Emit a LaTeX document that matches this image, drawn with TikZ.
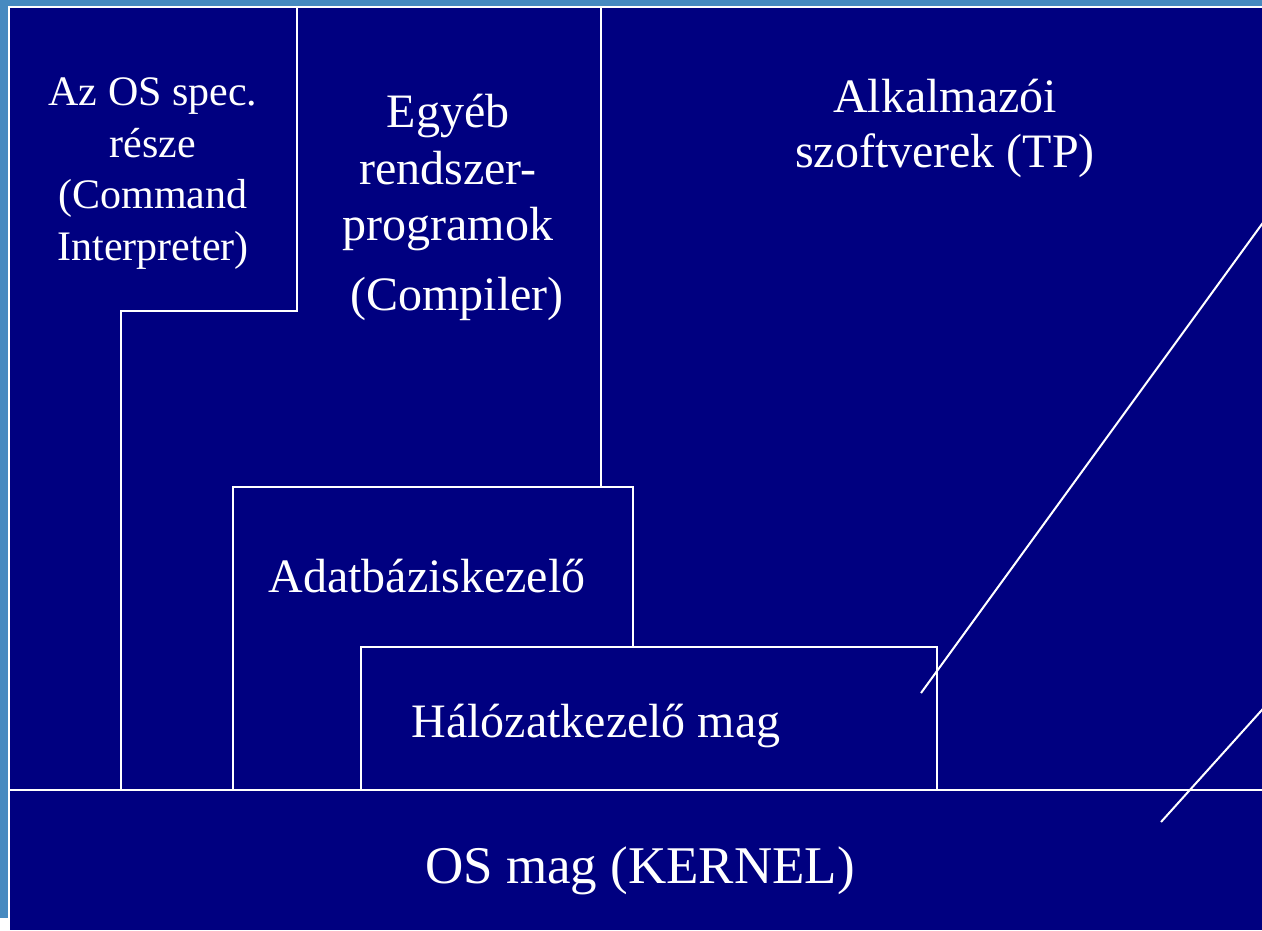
\documentclass[tikz,border=0pt]{standalone}
\usepackage{fontspec}
\setmainfont{Liberation Serif}
\definecolor{slidenavy}{RGB}{0,0,128}
\definecolor{frameblue}{RGB}{70,138,192}
\begin{document}
\begin{tikzpicture}[x=1pt,y=-1pt,
  sep/.style={draw=white,line width=2pt},
  lbl/.style={text=white,inner sep=0pt,anchor=base,font=\fontsize{48}{58}\selectfont},
  lblsmall/.style={lbl,font=\fontsize{42}{52}\selectfont},
  lblbig/.style={lbl,font=\fontsize{53}{64}\selectfont}]
  \useasboundingbox (0,0) rectangle (1262,930);
  % slide frame and background
  \fill[white] (0,0) rectangle (1262,930);
  \fill[frameblue] (0,0) rectangle (1262,6);
  \fill[frameblue] (0,0) rectangle (8,918);
  \fill[slidenavy] (10,8) rectangle (1262,930);

  \begin{scope}
    \clip (10,8) rectangle (1262,930);
    % layer boundaries
    \draw[sep] (297,8) -- (297,311) -- (121,311) -- (121,790);
    \draw[sep] (601,8) -- (601,487);
    \draw[sep] (233,790) -- (233,487) -- (633,487) -- (633,647);
    \draw[sep] (361,790) -- (361,647) -- (937,647) -- (937,790);
    \draw[sep] (10,790) -- (1262,790);
    % slanted strokes
    \coordinate (s1a) at (921,693);
    \coordinate (s1b) at (1270,213);
    \coordinate (s2a) at (1161,822);
    \coordinate (s2b) at (1270,701);
    \draw[sep] (s1a) -- (s1b);
    \draw[sep] (s2a) -- (s2b);
  \end{scope}

  % command interpreter
  \node[lblsmall] (os1) at (153,105) {Az OS spec.};
  \node[lblsmall] (os2) at (153,157) {része};
  \node[lblsmall] (os3) at (153,208) {(Command};
  \node[lblsmall] (os4) at (153,260) {Interpreter)};
  % other system programs
  \node[lbl] (eg1) at (448,127) {Egyéb};
  \node[lbl] (eg2) at (448,184) {rendszer-};
  \node[lbl] (eg3) at (448,240) {programok};
  \node[lbl] (eg4) at (457,310) {(Compiler)};
  % application software
  \node[lbl] (al1) at (945,112) {Alkalmazói};
  \node[lbl] (al2) at (945,167) {szoftverek (TP)};
  % database manager and network core
  \node[lbl] (db) at (427,592) {Adatbáziskezelő};
  \node[lbl] (net) at (596,737) {Hálózatkezelő mag};
  % kernel
  \node[lblbig] (kern) at (640,883) {OS mag (KERNEL)};
\end{tikzpicture}
\end{document}
